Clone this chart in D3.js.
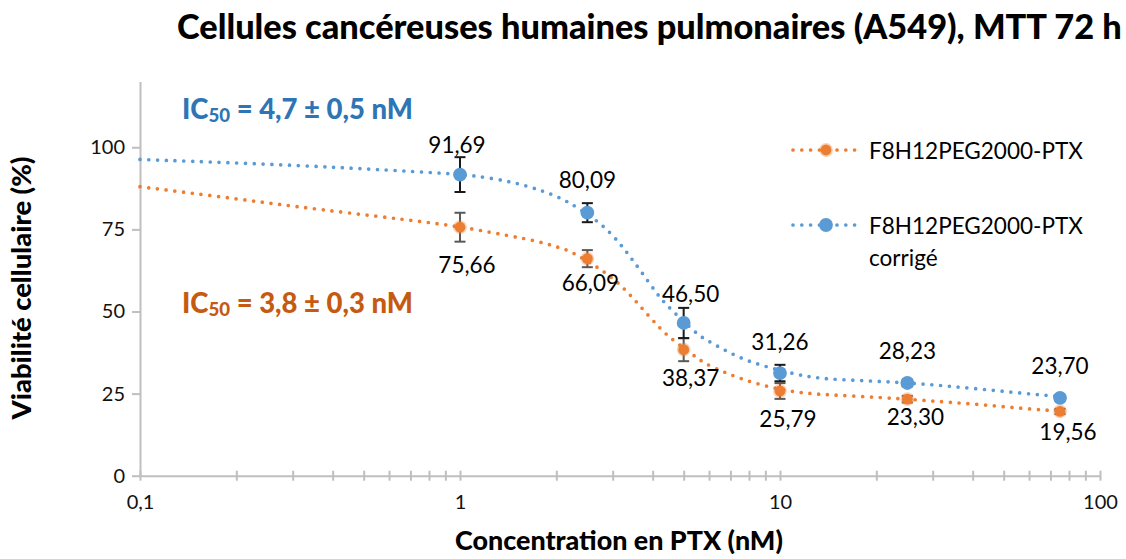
<!DOCTYPE html>
<html>
<head>
<meta charset="utf-8">
<script src="https://cdn.jsdelivr.net/npm/d3@7"></script>
<style>
  html, body { margin: 0; padding: 0; background: #fff; }
  svg { display: block; font-family: Lato, "Open Sans", sans-serif; }
</style>
</head>
<body>
<svg id="chart" width="1126" height="559"></svg>
<script>
// Concentrations (nM) and measured viability (%)
const conc = [1, 2.5, 5, 10, 25, 75];
const viabRaw = [75.66, 66.09, 38.37, 25.79, 23.30, 19.56];
const viabCorr = [91.69, 80.09, 46.50, 31.26, 28.23, 23.70];
const errRaw = [4.4, 2.6, 3.5, 2.4, 1.0, 0.8];
const errCorr = [5.3, 2.9, 4.6, 2.5, 1.0, 0.8];

// Fitted dose-response curves (concentration, viability)
const fitRawX = [0.1, 0.201, 0.357, 0.848, 1.114, 1.433, 1.74, 2.05, 2.21, 2.81, 3.16, 3.46, 3.74, 4.10, 4.45, 5.42, 5.79, 6.81, 8.16, 11.0, 14.3, 21.0, 26.7, 42.2, 64.9, 75];
const fitRawY = [88.0, 84.3, 81.1, 76.9, 75.0, 73.0, 71.5, 69.4, 68.5, 62.4, 58.3, 54.3, 50.5, 46.2, 42.5, 36.4, 34.2, 31.2, 28.3, 25.3, 24.6, 23.8, 23.1, 21.7, 20.0, 19.8];
const fitCorrX = [0.1, 0.325, 0.889, 1.075, 1.465, 1.778, 2.13, 2.77, 3.15, 3.40, 3.67, 4.13, 4.44, 5.54, 5.90, 6.98, 8.24, 11.3, 13.7, 20.0, 27.1, 42.2, 64.9, 75];
const fitCorrY = [96.3, 94.5, 92.1, 91.6, 89.5, 87.0, 84.2, 76.9, 70.9, 66.7, 62.4, 55.3, 51.7, 42.8, 41.3, 37.3, 34.2, 30.7, 29.4, 28.8, 28.1, 26.4, 24.6, 24.1];

// Axis ticks
const yTicks = [0, 25, 50, 75, 100];
const xMajorTicks = [0.1, 1, 10, 100];

// Text
const titleText = "Cellules cancéreuses humaines pulmonaires (A549), MTT 72 h";
const xTitle = "Concentration en PTX (nM)";
const yTitle = "Viabilité cellulaire (%)";
const seriesNames = ["F8H12PEG2000-PTX", "F8H12PEG2000-PTX corrigé"];
const ic50Corr = "4,7 ± 0,5 nM";
const ic50Raw = "3,8 ± 0,3 nM";

// Hand-placed nudges for value labels [dx, dy] in pixels
const nudgeCorr = [[-3, -30], [0, -33], [7, -29], [0, -32], [0, -32], [0, -32]];
const nudgeRaw = [[7, 37], [3, 24], [7, 28], [8, 27], [8, 17], [8, 20]];

const BLUE = "#5B9BD5", ORANGE = "#ED7D31";
const fr = d3.formatLocale({ decimal: ",", thousands: " ", grouping: [3], currency: ["", " €"] });
const fmt2 = fr.format(".2f");
const fmtTick = v => fr.format("~g")(v);

const svg = d3.select("#chart");
const x = d3.scaleLog().domain([0.1, 100]).range([140, 1100]);
const y = d3.scaleLinear().domain([0, 120]).range([475.7, 81.6]);

// Size a text element so that it spans a given width
function fitWidth(sel, target) {
  sel.style("font-size", "20px");
  const w = sel.node().getComputedTextLength();
  sel.style("font-size", (20 * target / w) + "px");
}

// Title
const title = svg.append("text").attr("x", 177).attr("y", 39)
  .attr("font-weight", "900").attr("fill", "#000").text(titleText);
fitWidth(title, 945);

// Y axis
const yAxis = svg.append("g").attr("transform", `translate(${x(0.1)},0)`)
  .call(d3.axisLeft(y).tickValues(yTicks).tickSize(8).tickSizeOuter(0).tickPadding(7).tickFormat(fmtTick));
yAxis.select(".domain").attr("stroke", "#BFBFBF").attr("stroke-width", 2);
yAxis.selectAll(".tick line").attr("stroke", "#BFBFBF").attr("stroke-width", 2);
yAxis.selectAll(".tick text").attr("fill", "#111").style("font-size", "20px").style("font-family", "Lato");

// X axis with minor ticks crossing the line
const xAllTicks = [];
[0.1, 1, 10].forEach(d => { for (let k = 1; k < 10; k++) xAllTicks.push(d * k); });
xAllTicks.push(100);
const xAxis = svg.append("g").attr("transform", `translate(0,${y(0)})`)
  .call(d3.axisBottom(x).tickValues(xAllTicks).tickSize(5).tickSizeOuter(0).tickPadding(14)
    .tickFormat(v => xMajorTicks.some(m => Math.abs(m - v) < 1e-9) ? fmtTick(v) : ""));
xAxis.select(".domain").attr("stroke", "#BFBFBF").attr("stroke-width", 2);
xAxis.selectAll(".tick line").attr("y1", -5).attr("y2", 5).attr("stroke", "#BFBFBF").attr("stroke-width", 2);
xAxis.selectAll(".tick text").attr("fill", "#111").style("font-size", "20px").style("font-family", "Lato");

// Axis titles
const xt = svg.append("text").attr("x", 619).attr("y", 550).attr("text-anchor", "middle")
  .attr("font-weight", "900").text(xTitle);
fitWidth(xt, 328);
const yt = svg.append("text").attr("transform", "translate(31,288) rotate(-90)")
  .attr("text-anchor", "middle").attr("font-weight", "900").text(yTitle);
fitWidth(yt, 263);

// Dotted fit curves
const line = d3.line().x(d => x(d[0])).y(d => y(d[1])).curve(d3.curveBasis);
function dotted(sel, color) {
  return sel.attr("fill", "none").attr("stroke", color).attr("stroke-width", 3.7)
    .attr("stroke-linecap", "round").attr("stroke-dasharray", "0 8.8");
}
dotted(svg.append("path").attr("d", line(d3.zip(fitRawX, fitRawY))), ORANGE);
dotted(svg.append("path").attr("d", line(d3.zip(fitCorrX, fitCorrY))), BLUE);

// Error bars
function errorBars(vals, errs, color) {
  const g = svg.append("g").attr("stroke", color).attr("stroke-width", 2).attr("fill", "none");
  conc.forEach((c, i) => {
    const cx = x(c), y0 = y(vals[i] - errs[i]), y1 = y(vals[i] + errs[i]);
    g.append("line").attr("x1", cx).attr("x2", cx).attr("y1", y0).attr("y2", y1);
    g.append("line").attr("x1", cx - 5.5).attr("x2", cx + 5.5).attr("y1", y0).attr("y2", y0);
    g.append("line").attr("x1", cx - 5.5).attr("x2", cx + 5.5).attr("y1", y1).attr("y2", y1);
  });
}
errorBars(viabRaw, errRaw, "#595959");
errorBars(viabCorr, errCorr, "#1a1a1a");

// Markers
function orangeMarker(g, cx, cy) {
  g.append("circle").attr("cx", cx).attr("cy", cy).attr("r", 5.4)
    .attr("fill", ORANGE).attr("stroke", "rgba(237,125,49,0.35)").attr("stroke-width", 3);
}
function blueMarker(g, cx, cy) {
  g.append("circle").attr("cx", cx).attr("cy", cy).attr("r", 6.9).attr("fill", BLUE);
}
const mk = svg.append("g");
conc.forEach((c, i) => orangeMarker(mk, x(c), y(viabRaw[i])));
conc.forEach((c, i) => blueMarker(mk, x(c), y(viabCorr[i])));

// Value labels
const lbl = svg.append("g").attr("text-anchor", "middle").attr("fill", "#000")
  .style("font-size", "22.5px").attr("dominant-baseline", "central");
conc.forEach((c, i) => {
  lbl.append("text").attr("x", x(c) + nudgeCorr[i][0]).attr("y", y(viabCorr[i]) + nudgeCorr[i][1]).text(fmt2(viabCorr[i]));
  lbl.append("text").attr("x", x(c) + nudgeRaw[i][0]).attr("y", y(viabRaw[i]) + nudgeRaw[i][1]).text(fmt2(viabRaw[i]));
});

// IC50 annotations
function ic50(yBase, value, color) {
  const t = svg.append("text").attr("x", 182).attr("y", yBase).attr("font-weight", "900").attr("fill", color);
  t.append("tspan").text("IC");
  t.append("tspan").attr("font-size", "0.68em").attr("dy", "0.18em").text("50");
  t.append("tspan").attr("dy", "-0.12em").text(" = " + value);
  fitWidth(t, 231);
}
ic50(119, ic50Corr, "#2E75B6");
ic50(313, ic50Raw, "#C55A11");

// Legend
const leg = svg.append("g");
function legendRow(cy, color, marker, lines) {
  dotted(leg.append("line").attr("x1", 793).attr("x2", 857).attr("y1", cy).attr("y2", cy), color);
  marker(leg, 826, cy);
  const t = leg.append("text").attr("x", 869).attr("y", cy).attr("dominant-baseline", "central").attr("fill", "#000");
  lines.forEach((s, k) => t.append("tspan").attr("x", 869).attr("dy", k === 0 ? 0 : 32).text(s));
  return t;
}
const l1 = legendRow(150, ORANGE, orangeMarker, [seriesNames[0]]);
fitWidth(l1, 214);
const fs = l1.style("font-size");
const l2 = legendRow(225, BLUE, blueMarker, ["F8H12PEG2000-PTX", "corrigé"]);
l2.style("font-size", fs);
</script>
</body>
</html>
